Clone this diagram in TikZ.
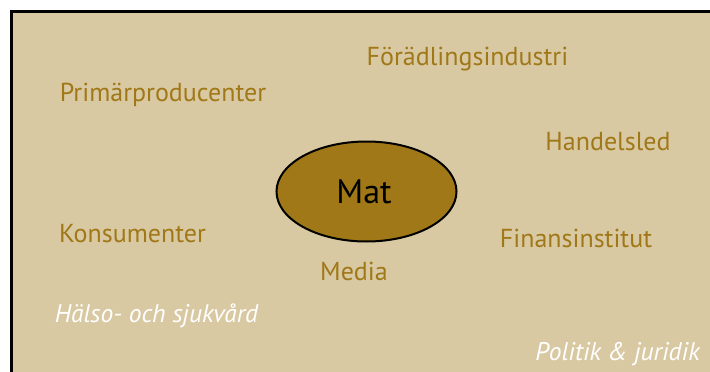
\documentclass[tikz,border=0pt]{standalone}
\usepackage{fontspec}
\setmainfont{PT Sans}
\usetikzlibrary{shapes.geometric}
\definecolor{tan}{HTML}{D9C9A3}
\definecolor{gold}{HTML}{A07818}
\definecolor{matfill}{HTML}{A07818}
\tikzset{
  actor/.style={text=gold, font=\fontsize{26}{28}\selectfont, inner sep=0pt, anchor=base},
  other/.style={text=white, font=\fontsize{25.5}{28}\selectfont\itshape, inner sep=0pt, anchor=base},
}
\begin{document}
\begin{tikzpicture}[x=1pt,y=-1pt]
\useasboundingbox (0,0) rectangle (710,372);
\fill[tan] (10,10) rectangle (710,372);
\draw[black, line width=2.5pt] (11.25,372) -- (11.25,11.25) -- (710,11.25);
\node[ellipse, draw=black, line width=2pt, fill=matfill, minimum width=180pt, minimum height=100pt] (mat) at (366.5,191.5) {};
\node[font=\fontsize{34}{36}\selectfont, text=black, inner sep=0pt, anchor=base] (matlabel) at (364,203) {Mat};
\node[actor] (prim) at (163,101) {Primärproducenter};
\node[actor] (foradl) at (467.5,65) {Förädlingsindustri};
\node[actor] (handel) at (608,150) {Handelsled};
\node[actor] (kons) at (132.5,242) {Konsumenter};
\node[actor] (finans) at (576,247) {Finansinstitut};
\node[actor] (media) at (354,280) {Media};
\node[other] (halso) at (156.5,322) {Hälso- och sjukvård};
\node[other] (politik) at (617.5,360) {Politik \& juridik};
\end{tikzpicture}
\end{document}
